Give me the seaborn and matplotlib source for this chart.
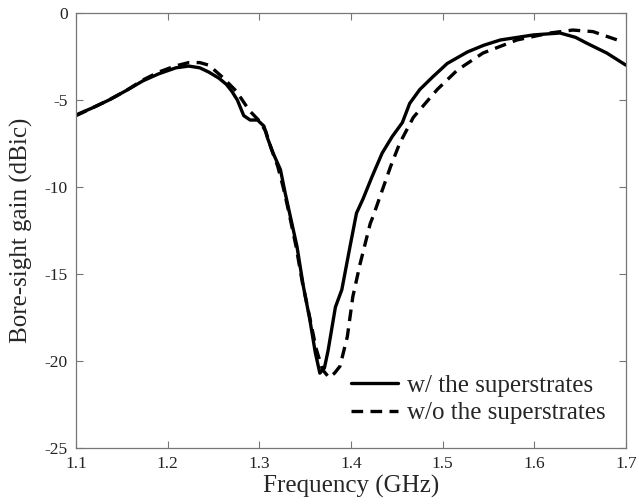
import numpy as np
import pandas as pd
import matplotlib
matplotlib.use("Agg")
import matplotlib.pyplot as plt
import seaborn as sns

# Data
freq_with = [1.100, 1.118, 1.136, 1.155, 1.173, 1.190, 1.209, 1.223, 1.235, 1.245,
             1.256, 1.264, 1.270, 1.276, 1.283, 1.290, 1.298, 1.305, 1.309, 1.315,
             1.323, 1.328, 1.333, 1.341, 1.348, 1.355, 1.361, 1.366, 1.371, 1.375,
             1.383, 1.390, 1.399, 1.406, 1.413, 1.423, 1.434, 1.445, 1.456, 1.464,
             1.475, 1.489, 1.505, 1.527, 1.545, 1.563, 1.599, 1.628, 1.645, 1.657,
             1.679, 1.700]
gain_with = [-5.86, -5.45, -5.0, -4.45, -3.9, -3.5, -3.15, -3.05, -3.15, -3.4,
             -3.75, -4.1, -4.5, -5.0, -5.9, -6.15, -6.15, -6.5, -7.2, -8.05,
             -9.0, -10.3, -11.5, -13.4, -15.7, -17.6, -19.5, -20.7, -20.4, -19.4,
             -16.9, -15.9, -13.4, -11.5, -10.7, -9.4, -8.05, -7.1, -6.3, -5.2,
             -4.4, -3.68, -2.9, -2.24, -1.85, -1.55, -1.26, -1.15, -1.4, -1.73,
             -2.3, -3.0]

freq_without = [1.100, 1.118, 1.136, 1.155, 1.173, 1.190, 1.208, 1.223, 1.235, 1.245,
                1.260, 1.275, 1.289, 1.300, 1.307, 1.313, 1.320, 1.326, 1.332, 1.340,
                1.347, 1.355, 1.362, 1.369, 1.376, 1.382, 1.388, 1.396, 1.402, 1.410,
                1.421, 1.424, 1.434, 1.443, 1.453, 1.468, 1.494, 1.516, 1.544, 1.581,
                1.617, 1.642, 1.664, 1.696]
gain_without = [-5.9, -5.45, -5.0, -4.45, -3.85, -3.4, -3.05, -2.85, -2.85, -3.0,
                -3.7, -4.5, -5.6, -6.2, -6.8, -7.8, -8.8, -10.0, -11.4, -13.4,
                -15.5, -17.5, -19.3, -20.5, -20.95, -20.7, -20.3, -18.6, -16.3, -14.4,
                -12.1, -11.7, -10.2, -8.85, -7.5, -6.0, -4.4, -3.28, -2.3, -1.55,
                -1.15, -0.98, -1.07, -1.65]

labels = ["w/ the superstrates", "w/o the superstrates"]
xticks = [1.1, 1.2, 1.3, 1.4, 1.5, 1.6, 1.7]
yticks = [-25, -20, -15, -10, -5, 0]

df = pd.concat([
    pd.DataFrame({"f": freq_with, "g": gain_with, "case": labels[0]}),
    pd.DataFrame({"f": freq_without, "g": gain_without, "case": labels[1]}),
], ignore_index=True)

sns.set_style("ticks")
plt.rcParams["font.family"] = ["Liberation Serif", "DejaVu Serif"]
plt.rcParams["axes.unicode_minus"] = False

fig = plt.figure(figsize=(6.39, 5.04), dpi=100)
ax = fig.add_axes([76/639, 1-448/504, 550/639, 435/504])

sns.lineplot(data=df, x="f", y="g", hue="case", style="case",
             palette=["black", "black"], dashes=[(None, None), (3.5, 2.2)],
             linewidth=2.4, sort=False, estimator=None, ax=ax)

ax.set_xlim(1.1, 1.7)
ax.set_ylim(-25, 0)
ax.set_xticks(xticks)
ax.set_xticklabels([f"{t:.1f}" for t in xticks])
ax.set_yticks(yticks)
ax.set_yticklabels([str(t) for t in yticks])
ax.tick_params(direction="in", top=True, right=True, length=5, width=0.8,
               color="#777777", labelsize=12.5, labelcolor="#222222", pad=6)
for s in ax.spines.values():
    s.set_color("#777777")
    s.set_linewidth(0.9)

ax.set_xlabel("Frequency (GHz)", fontsize=18, labelpad=2)
ax.set_ylabel("Bore-sight gain (dBic)", fontsize=18, labelpad=8)

leg = ax.legend(loc="lower right", frameon=False, fontsize=18,
                handlelength=1.9, handletextpad=0.35, labelspacing=0.2,
                bbox_to_anchor=(0.99, 0.02), borderaxespad=0.2)
for h in leg.get_lines():
    h.set_linewidth(2.4)

fig.savefig("out.png", dpi=100)
